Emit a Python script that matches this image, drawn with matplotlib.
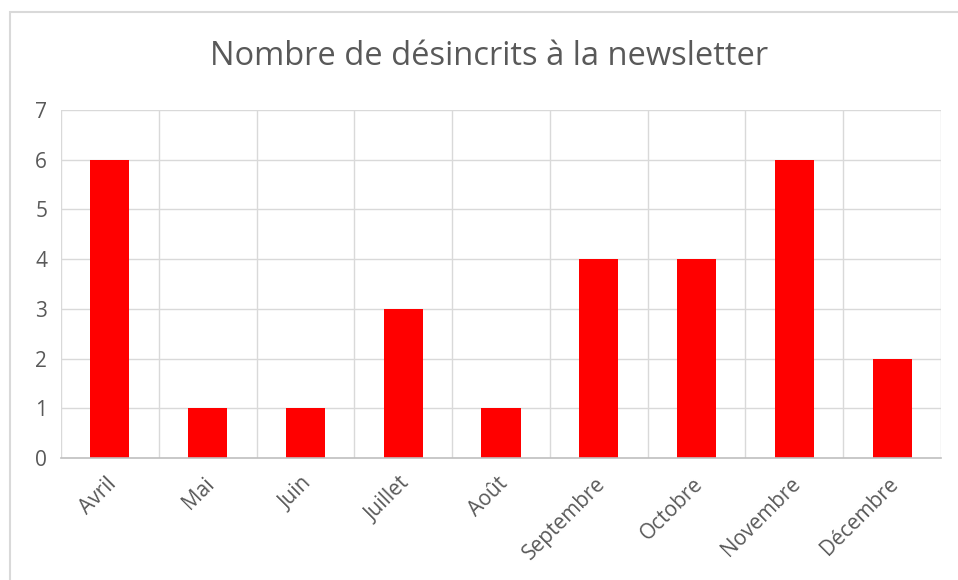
import matplotlib.pyplot as plt
import matplotlib.transforms as mtransforms
from matplotlib.patches import Rectangle

# Data
mois = ['Avril', 'Mai', 'Juin', 'Juillet', 'Août', 'Septembre', 'Octobre', 'Novembre', 'Décembre']
desinscrits = [6, 1, 1, 3, 1, 4, 4, 6, 2]
y_ticks = [0, 1, 2, 3, 4, 5, 6, 7]

plt.rcParams['font.family'] = ['Open Sans', 'DejaVu Sans']
txt = '#595959'
grid = '#D9D9D9'

fig = plt.figure(figsize=(9.58, 5.8), dpi=100)
ax = fig.add_axes([0.0637, 0.2103, 0.9186, 0.6])

# Chart border (cropped on the right and bottom)
fig.patches.append(Rectangle((10 / 958, -0.05), 1.2, 1 - 12 / 580 + 0.05,
                             transform=fig.transFigure, fill=False,
                             edgecolor='#D9D9D9', lw=1.5))

x = range(len(mois))
ax.bar(x, desinscrits, width=0.4, color='#FF0000', zorder=3)

ax.set_xlim(-0.5, len(mois) - 0.5)
ax.set_ylim(0, 7)
ax.set_yticks(y_ticks)

# Horizontal + vertical (category boundaries) gridlines
for v in y_ticks[1:]:
    ax.axhline(v, color=grid, lw=1, zorder=1)
for i in range(len(mois) + 1):
    ax.axvline(i - 0.5, color=grid, lw=1, zorder=1)

for s in ['top', 'right', 'left']:
    ax.spines[s].set_visible(False)
ax.spines['bottom'].set_color('#BFBFBF')
ax.spines['bottom'].set_linewidth(1.2)
ax.spines['bottom'].set_zorder(4)

ax.set_xticks(list(x))
ax.set_xticklabels(mois, rotation=45, ha='right', va='top', rotation_mode='anchor',
                   fontsize=15, color=txt)
ax.tick_params(axis='x', length=0, pad=11)
ax.tick_params(axis='y', length=0, pad=10, labelsize=15, labelcolor=txt)

# nudge the rotated labels a few pixels left, like Excel
shift = mtransforms.ScaledTranslation(-4 / 100, 0, fig.dpi_scale_trans)
for lbl in ax.get_xticklabels():
    lbl.set_transform(lbl.get_transform() + shift)

fig.text(0.511, 0.902, 'Nombre de désincrits à la newsletter', ha='center', va='center',
         fontsize=23.5, color=txt)

fig.savefig('out.png', dpi=100)
